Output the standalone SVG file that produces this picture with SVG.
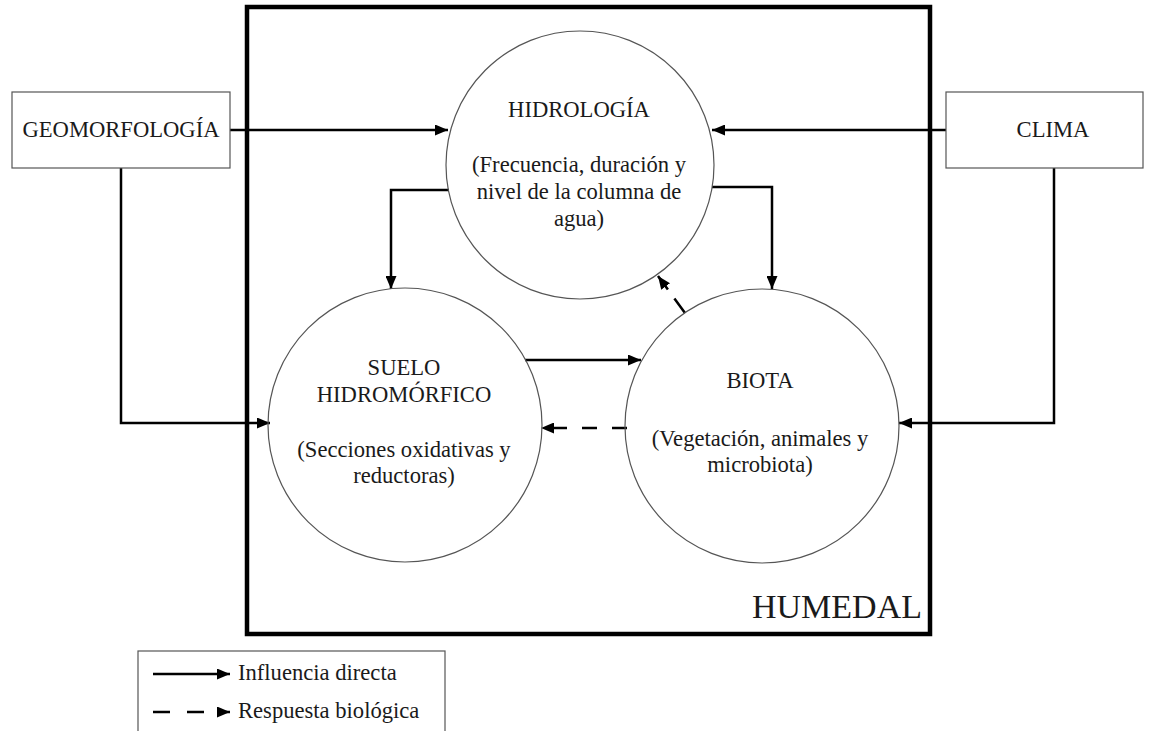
<svg xmlns="http://www.w3.org/2000/svg" width="1155" height="731" viewBox="0 0 1155 731">
  <style>
    .lbl { font-family: 'Liberation Serif', 'DejaVu Serif', serif; font-size: 22.6px; fill: #1a1a1a; }
    .mid { text-anchor: middle; }
    .node { fill: #ffffff; stroke: #555555; stroke-width: 1.2; }
    .frame { fill: none; stroke: #000000; stroke-width: 4.5; }
    .link { fill: none; stroke: #000000; stroke-width: 2.5; }
    .dash { fill: none; stroke: #000000; stroke-width: 2.5; stroke-dasharray: 15 15; }
  </style>
  <defs>
    <marker id="head" markerUnits="userSpaceOnUse" markerWidth="13" markerHeight="11" refX="13" refY="5.5" orient="auto">
      <path d="M0,0 L13,5.5 L0,11 z" fill="#000000"/>
    </marker>
  </defs>

  <rect width="1155" height="731" fill="#ffffff"/>

  <!-- wetland boundary -->
  <g id="humedal">
    <rect class="frame" x="247" y="7" width="683" height="627"/>
    <text class="lbl" x="922" y="618" text-anchor="end" style="font-size:34px">HUMEDAL</text>
  </g>

  <!-- connectors -->
  <g id="connectors">
    <line class="link" x1="230" y1="130" x2="448" y2="130" marker-end="url(#head)"/>
    <line class="link" x1="946" y1="130" x2="712" y2="130" marker-end="url(#head)"/>
    <polyline class="link" points="121,168 121,423 270,423" marker-end="url(#head)"/>
    <polyline class="link" points="1054,168 1054,423 899,423" marker-end="url(#head)"/>
    <polyline class="link" points="449,190 391,190 391,289" marker-end="url(#head)"/>
    <polyline class="link" points="712,187 772,187 772,289" marker-end="url(#head)"/>
    <line class="link" x1="525" y1="360" x2="641" y2="360" marker-end="url(#head)"/>
    <line class="dash" x1="627" y1="428" x2="541" y2="428" marker-end="url(#head)"/>
    <line class="dash" x1="685" y1="313" x2="658" y2="276" style="stroke-dasharray:18 11" marker-end="url(#head)"/>
  </g>

  <g id="geomorfologia">
    <rect class="node" x="12" y="92" width="218" height="76"/>
    <text class="lbl mid" x="121" y="137">GEOMORFOLOGÍA</text>
  </g>

  <g id="clima">
    <rect class="node" x="946" y="92" width="197" height="76"/>
    <text class="lbl mid" x="1053" y="137">CLIMA</text>
  </g>

  <g id="hidrologia">
    <circle class="node" cx="580" cy="165" r="134" style="fill:none"/>
    <text class="lbl mid" x="579" y="117">HIDROLOGÍA</text>
    <text class="lbl mid" x="579" y="172">(Frecuencia, duración y</text>
    <text class="lbl mid" x="579" y="199">nivel de la columna de</text>
    <text class="lbl mid" x="579" y="226">agua)</text>
  </g>

  <g id="suelo">
    <circle class="node" cx="405" cy="425" r="137" style="fill:none"/>
    <text class="lbl mid" x="404" y="375">SUELO</text>
    <text class="lbl mid" x="404" y="402">HIDROMÓRFICO</text>
    <text class="lbl mid" x="404" y="457">(Secciones oxidativas y</text>
    <text class="lbl mid" x="404" y="483">reductoras)</text>
  </g>

  <g id="biota">
    <circle class="node" cx="762" cy="426" r="137" style="fill:none"/>
    <text class="lbl mid" x="760" y="388">BIOTA</text>
    <text class="lbl mid" x="760" y="446">(Vegetación, animales y</text>
    <text class="lbl mid" x="760" y="472">microbiota)</text>
  </g>

  <!-- key -->
  <g id="leyenda">
    <rect class="node" x="138" y="651" width="307" height="95"/>
    <line class="link" x1="153" y1="674" x2="230" y2="674" marker-end="url(#head)"/>
    <text class="lbl" x="238" y="680">Influencia directa</text>
    <line class="dash" x1="153" y1="712" x2="230" y2="712" style="stroke-dasharray:17 17" marker-end="url(#head)"/>
    <text class="lbl" x="238" y="718">Respuesta biológica</text>
  </g>
</svg>
